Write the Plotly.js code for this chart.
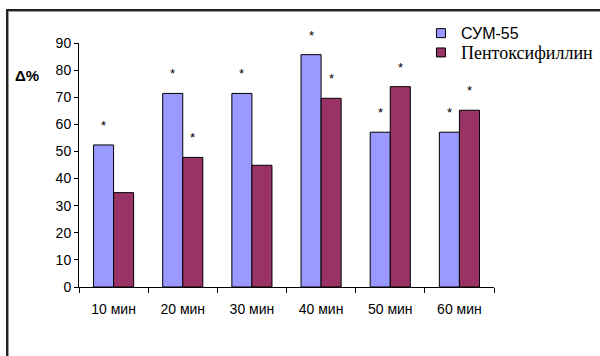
<!DOCTYPE html>
<html>
<head>
<meta charset="utf-8">
<script src="https://cdn.plot.ly/plotly-3.0.1.min.js"></script>
<style>
  html, body { margin: 0; padding: 0; background: #fff; }
  #wrap { position: relative; width: 600px; height: 356px; overflow: hidden; }
  #chart { position: absolute; left: 0; top: 0; width: 600px; height: 356px; }
  #frame { position: absolute; left: 6px; top: 9px; width: 600px; height: 360px;
           border-left: 2px solid #222; border-top: 2px solid #222; pointer-events: none;
           box-shadow: inset 1px 1px 0 #999; }
</style>
</head>
<body>
<div id="wrap">
  <div id="chart"></div>
  <div id="frame"></div>
</div>
<script>
const categories = ["10 мин", "20 мин", "30 мин", "40 мин", "50 мин", "60 мин"];
const sumValues = [52.4, 71.4, 71.4, 85.7, 57.1, 57.1];
const pentoxValues = [34.8, 47.8, 44.9, 69.6, 73.9, 65.2];
const sumSignif = [true, true, true, true, true, true];
const pentoxSignif = [false, true, false, true, true, true];
const yTicks = [0, 10, 20, 30, 40, 50, 60, 70, 80, 90];
const seriesNames = ["СУМ-55", "Пентоксифиллин"];
const seriesColors = ["#9999FF", "#993366"];

const traces = [
  {
    type: "bar", x: categories, y: sumValues, name: seriesNames[0], showlegend: false,
    marker: { color: seriesColors[0], line: { color: "#000", width: 1 } }
  },
  {
    type: "bar", x: categories, y: pentoxValues, name: seriesNames[1], showlegend: false,
    marker: { color: seriesColors[1], line: { color: "#000", width: 1 } }
  },
  {
    type: "scatter", mode: "markers", x: [categories[0]], y: [null],
    name: seriesNames[0], hoverinfo: "skip", legend: "legend",
    marker: { symbol: "square", size: 9, color: seriesColors[0], line: { color: "#000", width: 1 } }
  },
  {
    type: "scatter", mode: "markers", x: [categories[0]], y: [null],
    name: seriesNames[1], hoverinfo: "skip", legend: "legend2",
    marker: { symbol: "square", size: 9, color: seriesColors[1], line: { color: "#000", width: 1 } }
  }
];

const annotations = [];
function addStars(vals, flags, shift) {
  vals.forEach((v, i) => {
    if (!flags[i]) return;
    annotations.push({
      x: categories[i], y: v, xref: "x", yref: "y",
      text: "*", showarrow: false, xshift: shift, yshift: 10,
      yanchor: "bottom", xanchor: "center",
      font: { family: "Arial, 'Liberation Sans', sans-serif", size: 13, color: "#000" }
    });
  });
}
addStars(sumValues, sumSignif, -10);
addStars(pentoxValues, pentoxSignif, 10);
annotations.push({
  xref: "paper", yref: "paper", x: -0.125, y: 0.865,
  text: "<b>Δ%</b>", showarrow: false, xanchor: "center", yanchor: "middle",
  font: { family: "Arial, 'Liberation Sans', sans-serif", size: 15, color: "#000" }
});

const legendBase = {
  xanchor: "left", yanchor: "middle",
  bgcolor: "rgba(0,0,0,0)", borderwidth: 0, itemwidth: 30
};

const layout = {
  width: 600, height: 356,
  margin: { l: 79, r: 106, t: 43, b: 69, autoexpand: false },
  paper_bgcolor: "#fff", plot_bgcolor: "#fff",
  barmode: "group", bargap: 0.42, bargroupgap: 0,
  font: { family: "Arial, 'Liberation Sans', sans-serif", size: 14, color: "#000" },
  showlegend: true,
  legend: Object.assign({}, legendBase, {
    x: 0.824, y: 1.04,
    font: { family: "Arial, 'Liberation Sans', sans-serif", size: 16, color: "#000" }
  }),
  legend2: Object.assign({}, legendBase, {
    x: 0.824, y: 0.96,
    font: { family: "'Liberation Serif', 'Times New Roman', serif", size: 18, color: "#000" }
  }),
  xaxis: {
    type: "category", showline: true, linecolor: "#000", linewidth: 1,
    ticks: "outside", ticklen: 5, tickcolor: "#000", tickson: "boundaries",
    ticklabelstandoff: 9, automargin: false,
    showgrid: false, zeroline: false, fixedrange: true,
    tickfont: { size: 14 }
  },
  yaxis: {
    range: [0, 90], tickvals: yTicks, showline: true, linecolor: "#000", linewidth: 1,
    ticks: "outside", ticklen: 4, tickcolor: "#000", ticksuffix: "\u2002",
    automargin: false,
    showgrid: false, zeroline: false, fixedrange: true,
    tickfont: { size: 14 }
  },
  annotations: annotations
};

Plotly.newPlot("chart", traces, layout, { staticPlot: true, displayModeBar: false });
</script>
</body>
</html>
